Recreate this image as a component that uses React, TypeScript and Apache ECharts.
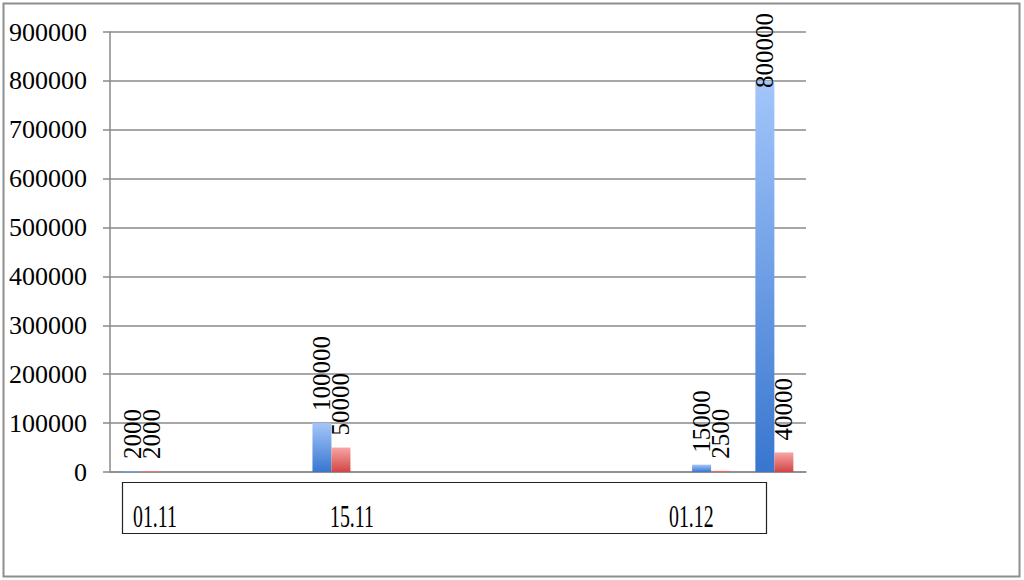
import React, { useEffect, useRef } from "react";
import * as echarts from "echarts";

const categories = ["01.11", "", "", "15.11", "", "", "", "", "", "01.12", ""];
const seriesA = [2000, null, null, 100000, null, null, null, null, null, 15000, 800000];
const seriesB = [2000, null, null, 50000, null, null, null, null, null, 2500, 40000];
const yTicks = { min: 0, max: 900000, interval: 100000 };

const SERIF = "'Liberation Serif', 'Times New Roman', serif";

export default function App() {
  const ref = useRef<HTMLDivElement>(null);
  useEffect(() => {
    if (!ref.current) return;
    const chart = echarts.init(ref.current, null, { renderer: "svg" });
    const labelX: Record<number, number> = { 0: 133, 3: 330, 9: 669 };
    const xLabels = categories
      .map((c, i) => ({ c, i }))
      .filter((d) => d.c !== "")
      .map((d) => ({
        type: "text",
        x: labelX[d.i] ?? 0,
        y: 516,
        scaleX: 0.62,
        style: {
          text: d.c,
          fontFamily: SERIF,
          fontSize: 32,
          fill: "#000",
          textAlign: "left",
          textVerticalAlign: "middle",
        },
      }));
    const labelCfg = {
      show: true,
      position: "top",
      rotate: 90,
      align: "left",
      verticalAlign: "middle",
      distance: 12,
      fontFamily: SERIF,
      fontSize: 25,
      color: "#000",
    };
    // tall bars near the top of the plot get their label pulled down onto the bar
    const withLabels = (arr: (number | null)[]) =>
      arr.map((v) =>
        v != null && v > yTicks.max * 0.8
          ? { value: v, label: { distance: -7 } }
          : v
      );
    chart.setOption({
      animation: false,
      backgroundColor: "#fff",
      grid: { left: 110, right: 218, top: 32, bottom: 108 },
      xAxis: {
        type: "category",
        data: categories,
        axisLine: { show: true, lineStyle: { color: "#8a8a8a", width: 1.5 } },
        axisTick: { show: false },
        axisLabel: { show: false },
        splitLine: { show: false },
      },
      yAxis: {
        type: "value",
        min: yTicks.min,
        max: yTicks.max,
        interval: yTicks.interval,
        axisLine: { show: true, lineStyle: { color: "#8a8a8a", width: 1.5 } },
        axisTick: { show: true, inside: false, length: 7, lineStyle: { color: "#8a8a8a", width: 1.5 } },
        splitLine: { show: true, lineStyle: { color: "#8a8a8a", width: 1.5 } },
        axisLabel: {
          fontFamily: SERIF,
          fontSize: 26,
          color: "#000",
          margin: 23,
          formatter: (v: number) => String(v),
        },
      },
      series: [
        {
          type: "bar",
          data: withLabels(seriesA),
          barWidth: 19,
          barGap: "0%",
          itemStyle: {
            color: new echarts.graphic.LinearGradient(0, 0, 0, 1, [
              { offset: 0, color: "#a3c6fb" },
              { offset: 1, color: "#3876cf" },
            ]),
          },
          label: labelCfg,
        },
        {
          type: "bar",
          data: withLabels(seriesB),
          barWidth: 19,
          barGap: "0%",
          itemStyle: {
            color: new echarts.graphic.LinearGradient(0, 0, 0, 1, [
              { offset: 0, color: "#f7a5a5" },
              { offset: 1, color: "#d24545" },
            ]),
          },
          label: labelCfg,
        },
      ],
      graphic: [
        {
          type: "rect",
          shape: { x: 3.5, y: 3.5, width: 1016, height: 573 },
          style: { fill: "none", stroke: "#8e8e8e", lineWidth: 2 },
          silent: true,
        },
        {
          type: "rect",
          shape: { x: 122.5, y: 482.5, width: 644, height: 51 },
          style: { fill: "none", stroke: "#222", lineWidth: 1.2 },
          silent: true,
        },
        ...xLabels,
      ],
    });
    return () => chart.dispose();
  }, []);
  return (
    <div
      ref={ref}
      style={{ position: "absolute", left: 0, top: 0, width: 1024, height: 580 }}
    />
  );
}
